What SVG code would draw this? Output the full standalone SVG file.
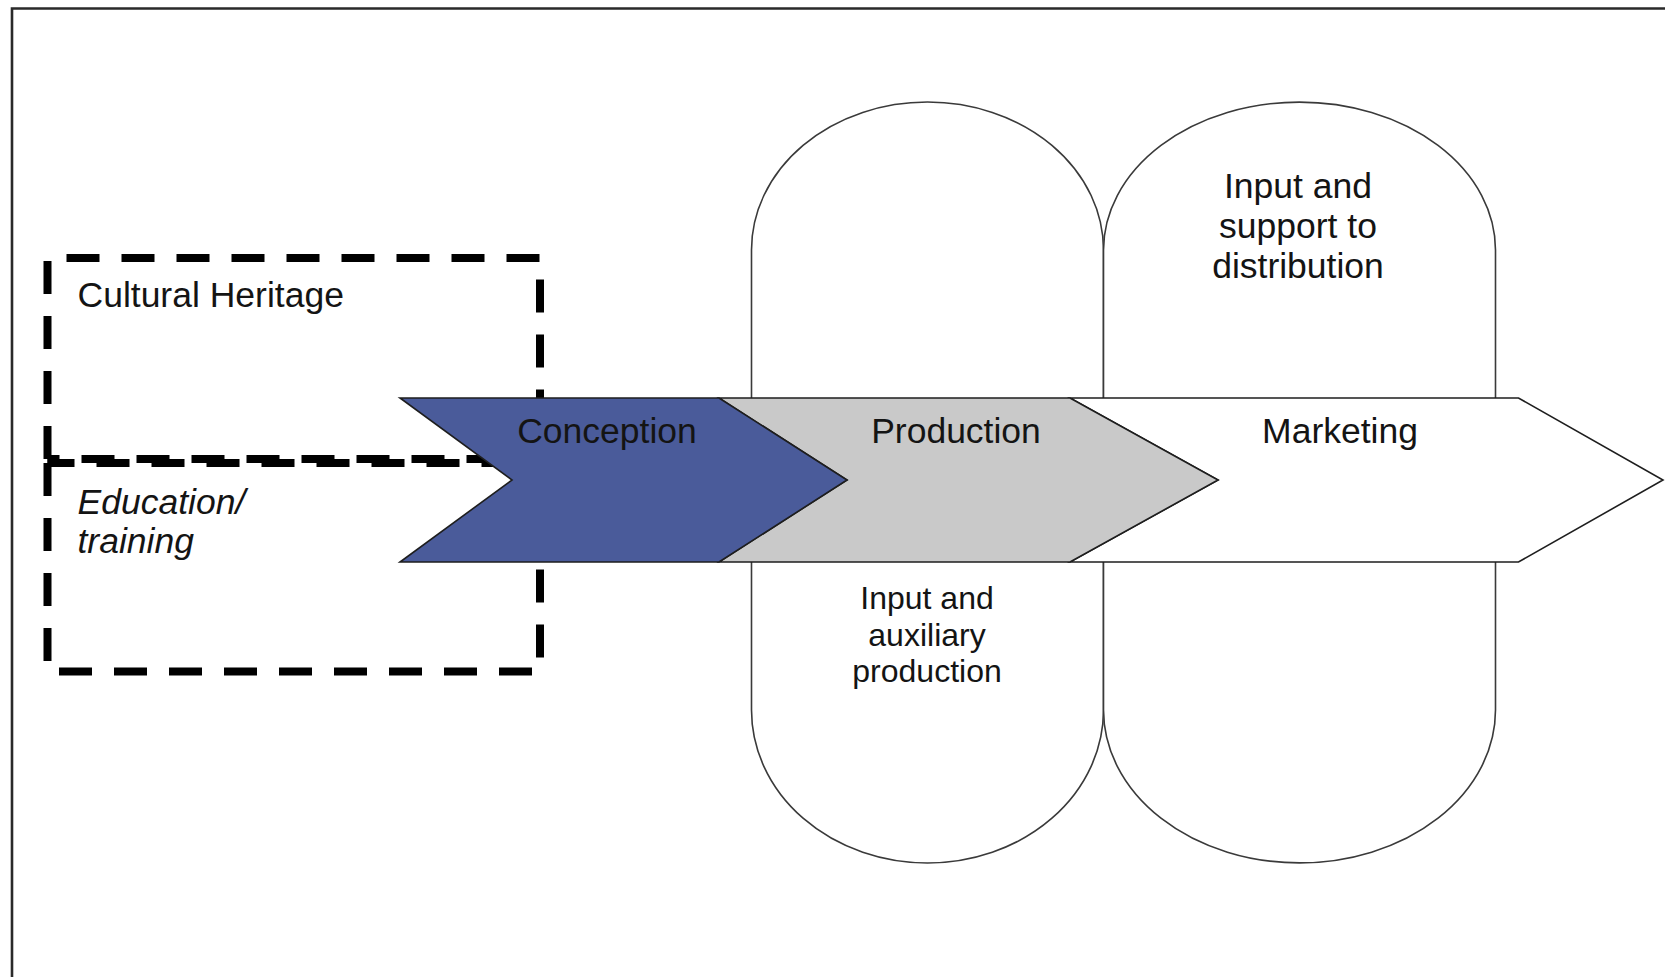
<svg xmlns="http://www.w3.org/2000/svg" width="1665" height="977" viewBox="0 0 1665 977">
<style>
  text { font-family: "Liberation Sans", Arial, sans-serif; fill: #141414; }
  .big { font-size: 35.5px; }
  .small { font-size: 32px; }
  .ital { font-style: italic; }
  .pill { fill: #ffffff; stroke: #3a3a3a; stroke-width: 1.6; }
  .chev { stroke: #1e1e1e; stroke-width: 1.6; stroke-linejoin: miter; }
  .dash { fill: none; stroke: #000; stroke-width: 8; stroke-dasharray: 33 22; }
</style>
<rect x="0" y="0" width="1665" height="977" fill="#ffffff"/>
<g id="frame">
  <path d="M12,977 V8.5 H1665" fill="none" stroke="#2a2a2a" stroke-width="2.6"/>
</g>
<g id="cultural-heritage">
  <path class="dash" d="M47.5,459 V258 H540 V459 H47.5"/>
  <text class="big" x="77.5" y="307">Cultural Heritage</text>
</g>
<g id="education-training">
  <path class="dash" d="M47.5,463 V671.5 H540 V463 H47.5"/>
  <text class="big ital" x="77.5" y="514">Education/</text>
  <text class="big ital" x="77.5" y="553">training</text>
</g>
<g id="pill-production-support">
  <path class="pill" d="M751.5,250 A176,148 0 0 1 1103.5,250 V710 A176,153 0 0 1 751.5,710 Z"/>
  <text class="small" text-anchor="middle" x="927" y="609">Input and</text>
  <text class="small" text-anchor="middle" x="927" y="646">auxiliary</text>
  <text class="small" text-anchor="middle" x="927" y="682">production</text>
</g>
<g id="pill-distribution-support">
  <path class="pill" d="M1103.5,250 A196,148 0 0 1 1495.5,250 V710 A196,153 0 0 1 1103.5,710 Z"/>
  <text class="big" text-anchor="middle" x="1298" y="198">Input and</text>
  <text class="big" text-anchor="middle" x="1298" y="238">support to</text>
  <text class="big" text-anchor="middle" x="1298" y="278">distribution</text>
</g>
<g id="marketing">
  <polygon class="chev" fill="#ffffff" points="1070,398 1518.5,398 1663,480 1518.5,562 1070,562 1218,480"/>
  <text class="big" text-anchor="middle" x="1340" y="443">Marketing</text>
</g>
<g id="production">
  <polygon class="chev" fill="#c9c9c9" points="719,398 1070,398 1218,480 1070,562 719,562 847,480"/>
  <text class="big" text-anchor="middle" x="956" y="443">Production</text>
</g>
<g id="conception">
  <polygon class="chev" fill="#4a5b9a" points="400,398 719,398 847,480 719,562 400,562 512,480"/>
  <text class="big" text-anchor="middle" x="607" y="443">Conception</text>
</g>
<g id="connectors"></g>
</svg>
